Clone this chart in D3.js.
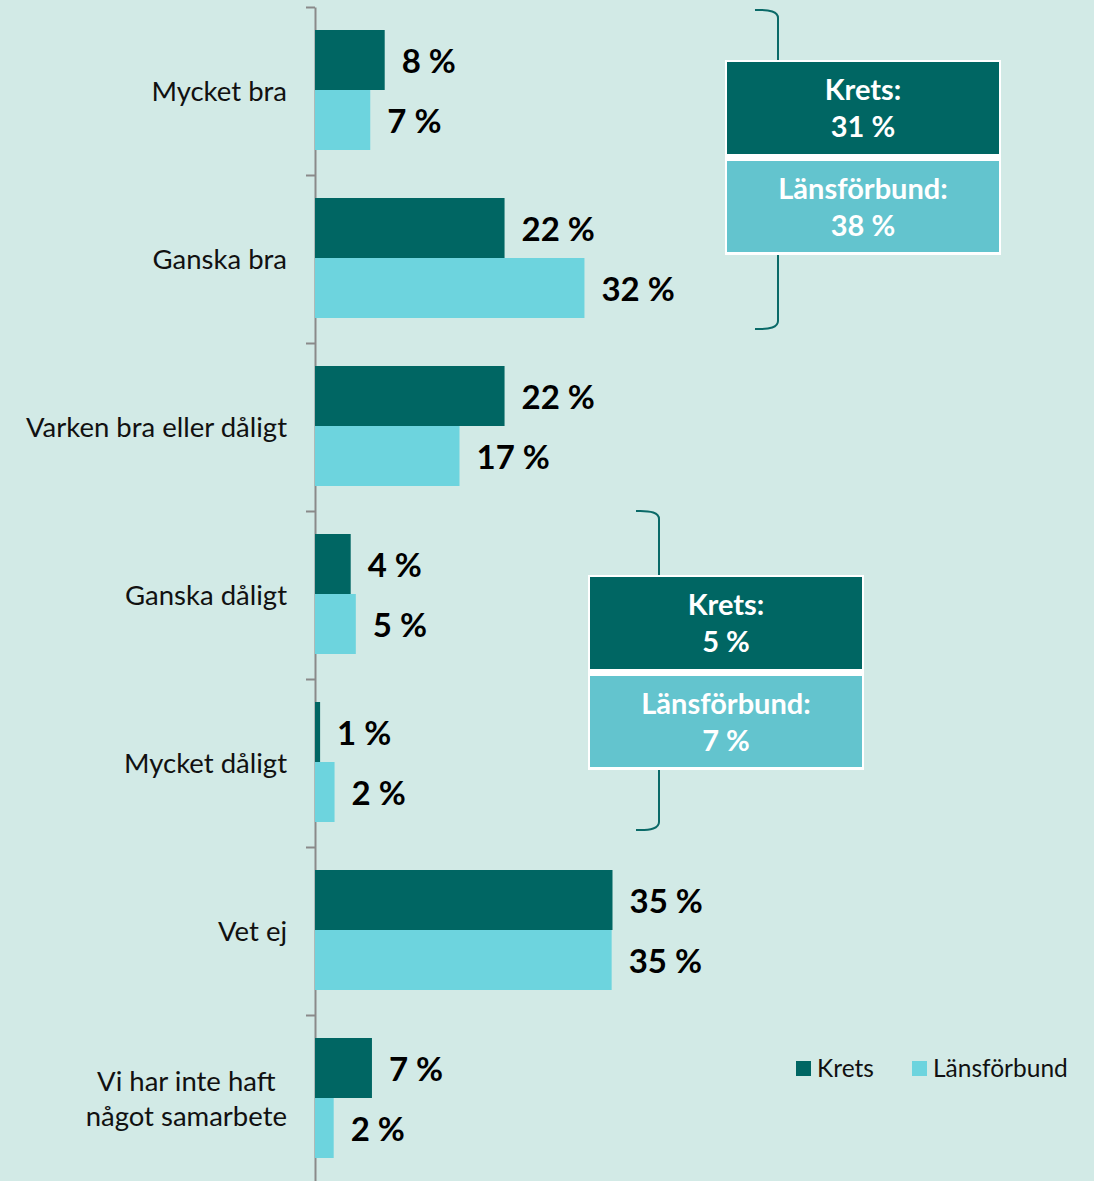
<!DOCTYPE html>
<html>
<head>
<meta charset="utf-8">
<script src="https://cdn.jsdelivr.net/npm/d3@7"></script>
<style>
	html, body { margin: 0; padding: 0; background: #d2eae6; }
	svg { display: block; font-family: Lato, 'Open Sans', sans-serif; }
</style>
</head>
<body>
<div id="chart"></div>
<script>
// categories, top to bottom
const categories = [
	'Mycket bra',
	'Ganska bra',
	'Varken bra eller dåligt',
	'Ganska dåligt',
	'Mycket dåligt',
	'Vet ej',
	'Vi har inte haft\nnågot samarbete',
]
const seriesNames = ['Krets', 'Länsförbund']
const kretsValues = [8.2, 22.3, 22.3, 4.2, 0.6, 35.0, 6.7]
const lansValues = [6.5, 31.7, 17.0, 4.8, 2.3, 34.9, 2.2]
// summary boxes: which categories are added together
const summaryGroups = [
	{ cats: [0, 1] },
	{ cats: [3, 4] },
]

const W = 1094
const H = 1181
const colors = { Krets: '#006663', 'Länsförbund': '#6dd4de' }
const boxLight = '#63c4ce'

const svg = d3.select('#chart').append('svg').attr('width', W).attr('height', H)

const axisX = 315
const x = d3.scaleLinear().domain([0, 40]).range([axisX, axisX + 340])
const y = d3.scaleBand().domain(categories).range([7, 7 + 168 * categories.length])
const ySub = d3.scaleBand().domain(seriesNames).range([23, 143])

// axis with ticks on category boundaries
const tickScale = d3.scaleLinear().domain([0, categories.length]).range(y.range())
svg.append('g')
	.attr('transform', `translate(${axisX},0)`)
	.call(d3.axisLeft(tickScale).ticks(categories.length).tickSize(9).tickSizeOuter(0).tickFormat(''))
	.call((g) => g.select('.domain').attr('stroke', '#8a8a8a').attr('stroke-width', 2))
	.call((g) => g.selectAll('.tick line').attr('stroke', '#8a8a8a').attr('stroke-width', 2))

// category labels
categories.forEach((c) => {
	const lines = c.split('\n')
	const t = svg.append('text')
		.attr('font-size', 27.5)
		.attr('fill', '#111')
	const cy = y(c) + y.bandwidth() / 2
	const lh = 35
	lines.forEach((ln, i) => {
		t.append('tspan')
			.attr('x', 287)
			.attr('y', cy + (i - (lines.length - 1) / 2) * lh)
			.attr('dy', '0.35em')
			.text(ln)
	})
	if (lines.length > 1) {
		// Excel centres multi-line labels
		let maxW = 0
		t.selectAll('tspan').each(function () { maxW = Math.max(maxW, this.getComputedTextLength()) })
		t.attr('text-anchor', 'middle').selectAll('tspan').attr('x', 287 - maxW / 2)
	} else {
		t.attr('text-anchor', 'end')
	}
})

const rows = categories.map((c, i) => ({ cat: c, Krets: kretsValues[i], 'Länsförbund': lansValues[i] }))

const groups = svg.selectAll('.cat').data(rows).enter().append('g')
	.attr('transform', (d) => `translate(0,${y(d.cat)})`)

groups.selectAll('rect')
	.data((d) => seriesNames.map((s) => ({ s, v: d[s] })))
	.enter().append('rect')
	.attr('x', x(0))
	.attr('y', (d) => ySub(d.s))
	.attr('width', (d) => x(d.v) - x(0))
	.attr('height', ySub.bandwidth())
	.attr('fill', (d) => colors[d.s])

groups.selectAll('.val')
	.data((d) => seriesNames.map((s) => ({ s, v: d[s] })))
	.enter().append('text')
	.attr('class', 'val')
	.attr('x', (d) => x(d.v) + 17)
	.attr('y', (d) => ySub(d.s) + ySub.bandwidth() / 2)
	.attr('dy', '0.4em')
	.attr('font-size', 33)
	.attr('font-weight', 'bold')
	.attr('fill', '#000')
	.text((d) => Math.round(d.v) + ' %')

// summary boxes with brackets
const boxPos = [
	{ x: 725, lineX: 778, top: 10, bottom: 329, boxTop: 60 },
	{ x: 588, lineX: 659, top: 511, bottom: 830, boxTop: 575 },
]
summaryGroups.forEach((g, gi) => {
	const p = boxPos[gi]
	const kSum = d3.sum(g.cats, (i) => kretsValues[i])
	const lSum = d3.sum(g.cats, (i) => lansValues[i])
	const bw = 276, half = 92, gap = 7
	const bg = svg.append('g')
	const br = d3.path()
	br.moveTo(p.lineX - 23, p.top)
	br.quadraticCurveTo(p.lineX, p.top - 1, p.lineX, p.top + 8)
	br.lineTo(p.lineX, p.boxTop)
	bg.append('path').attr('d', br.toString()).attr('fill', 'none').attr('stroke', '#0a6a68').attr('stroke-width', 2)
	const boxBottom = p.boxTop + half * 2 + gap + 4
	const br2 = d3.path()
	br2.moveTo(p.lineX, boxBottom)
	br2.lineTo(p.lineX, p.bottom - 8)
	br2.quadraticCurveTo(p.lineX, p.bottom + 1, p.lineX - 23, p.bottom)
	bg.append('path').attr('d', br2.toString()).attr('fill', 'none').attr('stroke', '#0a6a68').attr('stroke-width', 2)

	bg.append('rect').attr('x', p.x).attr('y', p.boxTop).attr('width', bw).attr('height', boxBottom - p.boxTop).attr('fill', '#fff')
	bg.append('rect').attr('x', p.x + 2).attr('y', p.boxTop + 2).attr('width', bw - 4).attr('height', half).attr('fill', colors.Krets)
	bg.append('rect').attr('x', p.x + 2).attr('y', p.boxTop + 2 + half + gap).attr('width', bw - 4).attr('height', half - 1).attr('fill', boxLight)
	const texts = [
		['Krets:', Math.round(kSum) + ' %'],
		['Länsförbund:', Math.round(lSum) + ' %'],
	]
	texts.forEach((tt, ti) => {
		const cy = p.boxTop + 2 + ti * (half + gap) + half / 2
		tt.forEach((s, si) => {
			bg.append('text')
				.attr('x', p.x + bw / 2)
				.attr('y', cy + (si - 0.5) * 37)
				.attr('dy', '0.36em')
				.attr('text-anchor', 'middle')
				.attr('font-size', 29)
				.attr('font-weight', 'bold')
				.attr('fill', '#fff')
				.text(s)
		})
	})
})

// legend
const legend = svg.append('g').attr('transform', 'translate(796,1068)')
const legX = [0, 116]
seriesNames.forEach((s, i) => {
	legend.append('rect').attr('x', legX[i]).attr('y', -7).attr('width', 15).attr('height', 15).attr('fill', colors[s])
	legend.append('text').attr('x', legX[i] + 21).attr('y', 0).attr('dy', '0.35em')
		.attr('font-size', 24.5).attr('fill', '#111').text(s)
})
</script>
</body>
</html>
